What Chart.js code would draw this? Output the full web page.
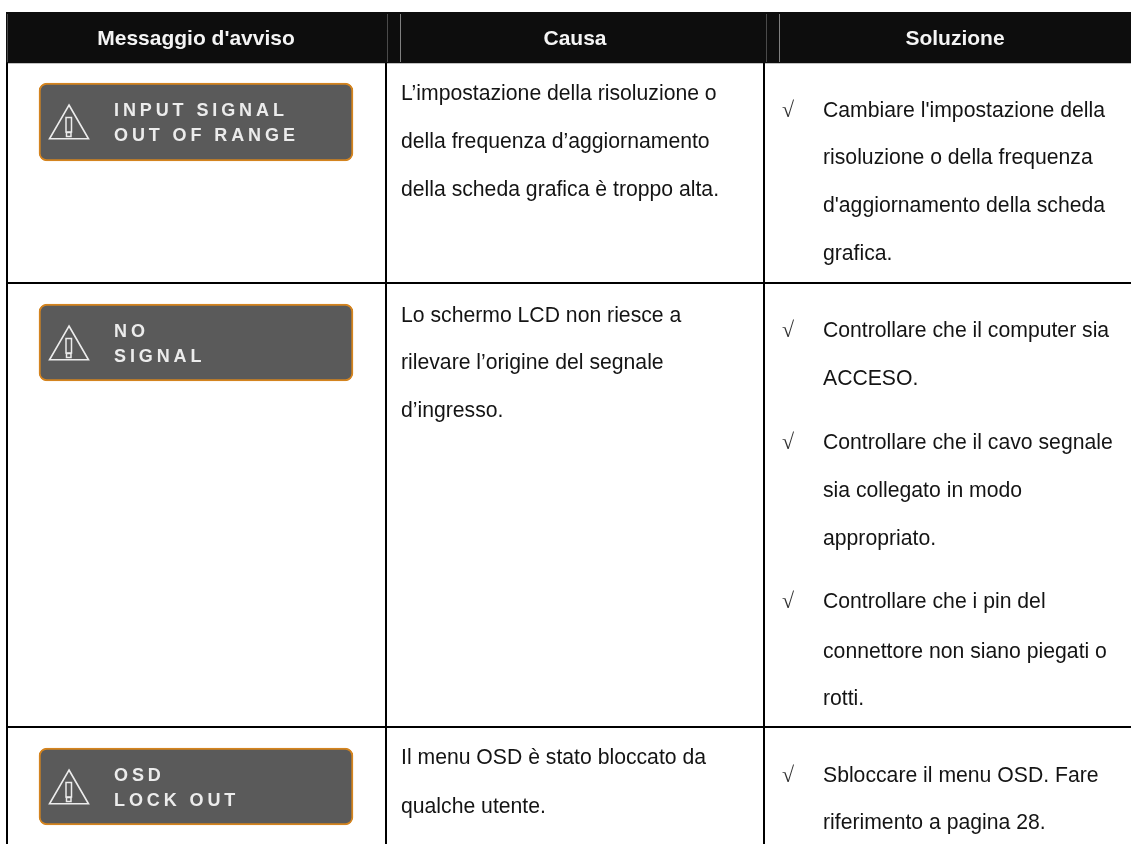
<!DOCTYPE html>
<html lang="it">
<head>
<meta charset="utf-8">
<title>Messaggio d'avviso</title>
<script src="https://cdn.jsdelivr.net/npm/chart.js@4/dist/chart.umd.min.js"></script>
<style>
  html, body { margin: 0; padding: 0; background: #fff; overflow: hidden; }
  canvas { display: block; }
</style>
</head>
<body>
<canvas id="table" width="1131" height="844"></canvas>
<script>
// ─── Contenu du tableau ───
const headers = ['Messaggio d\'avviso', 'Causa', 'Soluzione'];

const badgeLines = [
  ['INPUT SIGNAL', 'OUT OF RANGE'],
  ['NO', 'SIGNAL'],
  ['OSD', 'LOCK OUT'],
];

const causeLines = [
  'L’impostazione della risoluzione o',
  'della frequenza d’aggiornamento',
  'della scheda grafica è troppo alta.',
  'Lo schermo LCD non riesce a',
  'rilevare l’origine del segnale',
  'd’ingresso.',
  'Il menu OSD è stato bloccato da',
  'qualche utente.',
];

const solutionLines = [
  'Cambiare l\'impostazione della',
  'risoluzione o della frequenza',
  'd\'aggiornamento della scheda',
  'grafica.',
  'Controllare che il computer sia',
  'ACCESO.',
  'Controllare che il cavo segnale',
  'sia collegato in modo',
  'appropriato.',
  'Controllare che i pin del',
  'connettore non siano piegati o',
  'rotti.',
  'Sbloccare il menu OSD. Fare',
  'riferimento a pagina 28.',
];

const checkMark = '√';

// ─── Géométrie (unités des axes = pixels de la page) ───
const columnEdges = [7, 386, 764];
const rowEdges = [283, 727];
const headerCenters = [196, 575, 955];
const headerTop = 12, headerBottom = 63;
const causeY = [100, 148, 196, 322, 369, 417, 764, 813];
const solutionY = [117, 164, 212, 260, 337, 385, 449, 497, 545, 608, 658, 705, 782, 829];
const checkY = [117, 337, 449, 608, 782];
const badgeTops = [83, 304, 748];
const badgeBottoms = [161, 381, 825];
const dimDividers = [7.5, 387.5, 766.5];
const lightDividers = [400.5, 779.5];

const causeX = 401, solutionX = 823, checkX = 782;
const badgeLeft = 39, badgeRight = 353;
const badgeTextX = 114;
const iconX = 69;

const FONT = "'Liberation Sans', Arial, sans-serif";

// segments verticaux dans l'en-tête, séparés par un trou
function dividerSegments(xs) {
  const pts = [];
  xs.forEach(x => {
    pts.push({ x, y: headerTop + 2 }, { x, y: headerBottom - 1 }, { x: null, y: null });
  });
  return pts;
}

// ─── Textes et point d'exclamation, placés via les échelles ───
const tableText = {
  id: 'tableText',
  afterDatasetsDraw(chart) {
    const { ctx, scales: { x, y } } = chart;
    const put = (text, px, py) => ctx.fillText(text, x.getPixelForValue(px), y.getPixelForValue(py));

    ctx.save();
    ctx.textBaseline = 'alphabetic';

    // en-têtes
    ctx.font = 'bold 21px ' + FONT;
    ctx.fillStyle = '#f4f4f4';
    ctx.textAlign = 'center';
    headers.forEach((h, i) => put(h, headerCenters[i], 45));

    // colonne Causa
    ctx.textAlign = 'left';
    ctx.font = '21.2px ' + FONT;
    ctx.fillStyle = '#141414';
    causeLines.forEach((t, i) => put(t, causeX, causeY[i]));

    // colonne Soluzione
    solutionLines.forEach((t, i) => put(t, solutionX, solutionY[i]));

    ctx.font = '22px "Liberation Serif", serif';
    ctx.fillStyle = '#333';
    checkY.forEach(v => put(checkMark, checkX, v));

    // libellés des badges
    ctx.font = 'bold 18px ' + FONT;
    ctx.letterSpacing = '3.9px';
    ctx.fillStyle = '#ececec';
    badgeLines.forEach((lines, i) => {
      put(lines[0], badgeTextX, badgeTops[i] + 33);
      put(lines[1], badgeTextX, badgeTops[i] + 58);
    });
    ctx.letterSpacing = '0px';

    // point d'exclamation de l'icône
    ctx.strokeStyle = '#ececec';
    ctx.lineWidth = 1.5;
    badgeTops.forEach(top => {
      const px = x.getPixelForValue(iconX);
      const py = y.getPixelForValue(top);
      ctx.strokeRect(px - 3, py + 34.5, 5.5, 14.5);
      ctx.strokeRect(px - 2.5, py + 49.5, 4.5, 4);
    });
    ctx.restore();
  }
};

new Chart(document.getElementById('table'), {
  type: 'bar',
  data: {
    datasets: [
      {
        // triangles d'avertissement
        type: 'scatter',
        data: badgeTops.map(top => ({ x: iconX, y: top + 44.5 })),
        pointStyle: 'triangle',
        pointRadius: 22.5,
        pointBorderColor: '#ececec',
        pointBorderWidth: 1.6,
        pointBackgroundColor: 'transparent',
        order: 1,
      },
      {
        type: 'line',
        data: dividerSegments(dimDividers),
        borderColor: '#4a4a4a',
        borderWidth: 1,
        pointRadius: 0,
        spanGaps: false,
        order: 1,
      },
      {
        type: 'line',
        data: dividerSegments(lightDividers),
        borderColor: '#808080',
        borderWidth: 1,
        pointRadius: 0,
        spanGaps: false,
        order: 1,
      },
      {
        // badges gris
        data: badgeTops.map((top, i) => ({ x: (badgeLeft + badgeRight) / 2, y: [top, badgeBottoms[i]] })),
        barThickness: badgeRight - badgeLeft,
        grouped: false,
        backgroundColor: '#5a5a5a',
        borderColor: '#d4841f',
        borderWidth: 2,
        borderRadius: 8,
        borderSkipped: false,
        order: 2,
      },
      {
        // bandeau d'en-tête
        data: [{ x: (6 + 1131) / 2, y: [headerTop, headerBottom] }],
        barThickness: 1125,
        grouped: false,
        backgroundColor: '#0d0d0d',
        order: 3,
      },
    ],
  },
  options: {
    responsive: false,
    animation: false,
    events: [],
    layout: { autoPadding: false, padding: { left: 6, top: 12, right: 0, bottom: 0 } },
    plugins: { legend: { display: false }, tooltip: { enabled: false } },
    scales: {
      x: {
        type: 'linear',
        min: 6,
        max: 1131,
        offset: false,
        afterBuildTicks: axis => { axis.ticks = columnEdges.map(value => ({ value })); },
        grid: { color: '#000', lineWidth: 2, drawTicks: false, offset: false },
        border: { display: false },
        ticks: { display: false },
      },
      y: {
        type: 'linear',
        reverse: true,
        min: 12,
        max: 844,
        afterBuildTicks: axis => { axis.ticks = rowEdges.map(value => ({ value })); },
        grid: { color: '#000', lineWidth: 2, drawTicks: false },
        border: { display: false },
        ticks: { display: false },
      },
    },
  },
  plugins: [tableText],
});
</script>
</body>
</html>
